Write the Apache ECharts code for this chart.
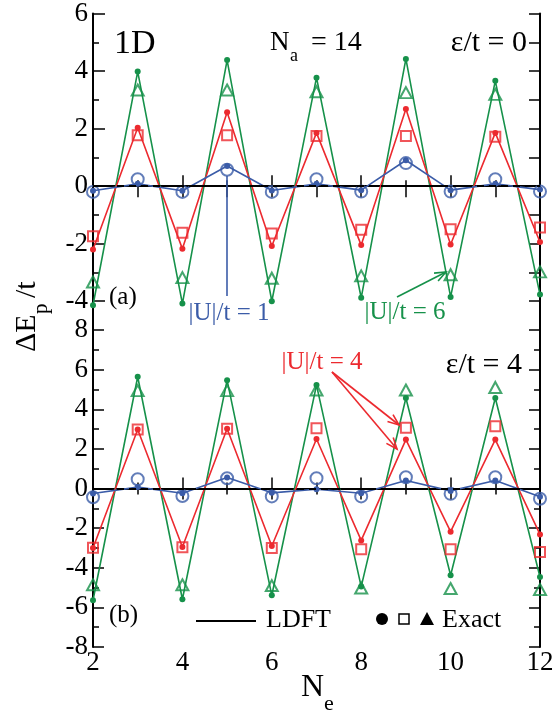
<!DOCTYPE html>
<html><head><meta charset="utf-8">
<script src="https://cdn.jsdelivr.net/npm/echarts@6/dist/echarts.min.js"></script>
<style>html,body{margin:0;padding:0;background:#fff}#c{width:560px;height:712px}</style>
</head><body><div id="c"></div>
<script>
// ---------------- data ----------------
const Ne = [2, 3, 4, 5, 6, 7, 8, 9, 10, 11, 12];
const xTickLabels = [2, 4, 6, 8, 10, 12];
const yTicksA = [-4, -2, 0, 2, 4, 6];
const yTicksB = [-8, -6, -4, -2, 0, 2, 4, 6, 8];
// panel (a): eps/t = 0
const a_U1_ldft  = [-0.16, 0.08, -0.16, 0.70, -0.15, 0.08, -0.14, 0.90, -0.14, 0.08, -0.12];
const a_U1_exact = [-0.20, 0.24, -0.20, 0.57, -0.20, 0.24, -0.19, 0.80, -0.19, 0.24, -0.19];
const a_U4_ldft  = [-2.20, 2.03, -2.18, 2.57, -2.08, 1.85, -2.05, 2.68, -2.03, 1.85, -1.94];
const a_U4_exact = [-1.74, 1.77, -1.62, 1.77, -1.65, 1.74, -1.52, 1.74, -1.50, 1.72, -1.44];
const a_U6_ldft  = [-4.14, 3.98, -4.08, 4.38, -4.00, 3.77, -3.88, 4.42, -3.85, 3.66, -3.77];
const a_U6_exact = [-3.33, 3.34, -3.18, 3.34, -3.20, 3.28, -3.12, 3.25, -3.08, 3.19, -2.98];
// panel (b): eps/t = 4
const b_U1_ldft  = [-0.25, 0.07, -0.24, 0.55, -0.22, -0.04, -0.24, 0.40, -0.12, 0.40, -0.42];
const b_U1_exact = [-0.44, 0.47, -0.38, 0.52, -0.40, 0.52, -0.40, 0.57, -0.27, 0.57, -0.52];
const b_U4_ldft  = [-3.00, 2.98, -2.95, 3.02, -2.90, 2.50, -2.62, 2.47, -2.18, 2.47, -2.32];
const b_U4_exact = [-2.99, 2.98, -2.96, 3.02, -3.00, 3.04, -3.07, 3.06, -3.07, 3.14, -3.20];
const b_U6_ldft  = [-5.64, 5.64, -5.59, 5.47, -5.39, 5.22, -4.95, 4.57, -4.38, 4.57, -4.47];
const b_U6_exact = [-4.86, 4.94, -4.86, 4.94, -4.90, 4.97, -5.02, 4.97, -5.05, 5.10, -5.10];

// ---------------- chart ----------------
const FAM = 'Liberation Serif';
const BLUE = '#3b5ca8', RED = '#ec2a2f', GREEN = '#16914a';
const chart = echarts.init(document.getElementById('c'), null, {renderer: 'canvas'});
const pts = ys => Ne.map((x, i) => [x, ys[i]]);
const tickStyle = {color: '#000', width: 1.5};
const axLine = show => ({show, lineStyle: {color: '#000', width: 2}});
const lblStyle = {color: '#000', fontFamily: FAM, fontSize: 27};

function xAxis(grid, pos, interval, labels, minor, len) {
  return {type: 'value', gridIndex: grid, position: pos, min: 2, max: 12, interval,
    axisLine: axLine(true),
    axisTick: {show: true, inside: true, length: len, lineStyle: tickStyle},
    minorTick: {show: minor, splitNumber: 2, length: 6, lineStyle: tickStyle},
    axisLabel: Object.assign({show: labels, margin: 2, customValues: xTickLabels}, lblStyle),
    splitLine: {show: false}, minorSplitLine: {show: false}};
}
function yAxis(grid, pos, min, max, opts) {
  return Object.assign({type: 'value', gridIndex: grid, position: pos, min, max,
    splitLine: {show: false}, minorSplitLine: {show: false}}, opts);
}
const odd = v => Math.abs(v % 2) === 1;

const xAxes = [
  xAxis(0, 'bottom', 2, false, true, 11),
  xAxis(0, 'top', 1, false, false, 11),
  xAxis(1, 'bottom', 2, true, true, 11),
  xAxis(1, 'top', 2, false, true, 11)
];
const yAxes = [
  yAxis(0, 'left', -5, 6, {interval: 1, axisLine: axLine(true),
    axisTick: {show: true, inside: true, length: 12, lineStyle: tickStyle, customValues: yTicksA},
    axisLabel: Object.assign({show: true, margin: 5, customValues: yTicksA,
      formatter: v => odd(v) ? '' : String(v)}, lblStyle)}),
  yAxis(0, 'left', -5, 6, {interval: 1, axisLine: axLine(false),
    axisTick: {show: true, inside: true, length: 6, lineStyle: tickStyle, customValues: [-5, -3, -1, 1, 3, 5]},
    axisLabel: {show: false}}),
  yAxis(0, 'right', -5, 6, {interval: 1, axisLine: axLine(true),
    axisTick: {show: true, inside: true, length: 11, lineStyle: tickStyle}, axisLabel: {show: false}}),
  yAxis(1, 'left', -8, 8, {interval: 2, axisLine: axLine(true),
    axisTick: {show: true, inside: true, length: 11, lineStyle: tickStyle},
    minorTick: {show: true, splitNumber: 2, length: 6, lineStyle: tickStyle},
    axisLabel: Object.assign({show: true, margin: 5, customValues: yTicksB}, lblStyle)}),
  yAxis(1, 'right', -8, 8, {interval: 2, axisLine: axLine(true),
    axisTick: {show: true, inside: true, length: 11, lineStyle: tickStyle},
    minorTick: {show: true, splitNumber: 2, length: 6, lineStyle: tickStyle},
    axisLabel: {show: false}})
];

const zeroLine = {silent: true, symbol: ['none', 'none'], label: {show: false},
  lineStyle: {color: '#000', type: [7, 5], width: 1.8}, data: [{yAxis: 0}]};

function ldft(data, color, xi, yi, mark) {
  const s = {type: 'line', xAxisIndex: xi, yAxisIndex: yi, data: pts(data), symbol: 'circle', symbolSize: 6,
    showSymbol: true, lineStyle: {color, width: 1.6}, itemStyle: {color}, z: 2, silent: true};
  if (mark) s.markLine = zeroLine;
  return s;
}
function exact(data, color, symbol, size, xi, yi) {
  return {type: 'scatter', xAxisIndex: xi, yAxisIndex: yi, data: pts(data), symbol, symbolSize: size,
    itemStyle: {color: 'rgba(0,0,0,0)', borderColor: color, borderWidth: 2}, z: 3, silent: true};
}

const series = [
  ldft(a_U6_ldft, GREEN, 0, 0, true), ldft(a_U4_ldft, RED, 0, 0), ldft(a_U1_ldft, BLUE, 0, 0),
  exact(a_U6_exact, GREEN, 'triangle', [12, 11], 0, 0), exact(a_U4_exact, RED, 'rect', 10, 0, 0),
  exact(a_U1_exact, BLUE, 'circle', 12, 0, 0),
  ldft(b_U6_ldft, GREEN, 2, 3, true), ldft(b_U4_ldft, RED, 2, 3), ldft(b_U1_ldft, BLUE, 2, 3),
  exact(b_U6_exact, GREEN, 'triangle', [12, 11], 2, 3), exact(b_U4_exact, RED, 'rect', 10, 2, 3),
  exact(b_U1_exact, BLUE, 'circle', 12, 2, 3)
];

// ---------------- annotations ----------------
function txt(text, x, y, size, color, align) {
  return {type: 'text', x, y, silent: true, z: 10, style: {text, fontFamily: FAM, fontSize: size,
    font: size + 'px "' + FAM + '"', fill: color || '#000',
    align: align || 'left', verticalAlign: 'middle', textAlign: align || 'left', textVerticalAlign: 'middle'}};
}
function arrow(x1, y1, x2, y2, color) {
  const dx = x2 - x1, dy = y2 - y1, L = Math.hypot(dx, dy), ux = dx / L, uy = dy / L;
  const hl = 12, a = 0.38, c = Math.cos(a), s = Math.sin(a);
  const h1 = [x2 - hl * (ux * c - uy * s), y2 - hl * (uy * c + ux * s)];
  const h2 = [x2 - hl * (ux * c + uy * s), y2 - hl * (uy * c - ux * s)];
  return [
    {type: 'line', silent: true, z: 10, shape: {x1, y1, x2, y2}, style: {stroke: color, lineWidth: 1.6}},
    {type: 'polyline', silent: true, z: 10, shape: {points: [h1, [x2, y2], h2]}, style: {stroke: color, lineWidth: 1.6, fill: null}}
  ];
}
const graphic = [
  txt('1D', 114, 44, 34),
  txt('N', 270, 43, 27), txt('a', 290, 56, 18), txt('= 14', 311, 43, 28),
  txt('\u03b5/t = 0', 527, 43, 30, '#000', 'right'),
  txt('(a)', 109, 297, 25),
  txt('\u03b5/t = 4', 522, 365, 30, '#000', 'right'),
  txt('(b)', 109, 615, 25),
  txt('|U|/t = 1', 229, 313, 25, BLUE, 'center'),
  txt('|U|/t = 6', 405, 312, 25, GREEN, 'center'),
  txt('|U|/t = 4', 322, 362, 25, RED, 'center'),
  {type: 'line', silent: true, z: 10, shape: {x1: 227, y1: 176, x2: 227, y2: 296}, style: {stroke: BLUE, lineWidth: 1.6}},
  ...arrow(397, 297, 446, 272, GREEN),
  ...arrow(332, 372, 399, 425, RED),
  ...arrow(332, 372, 397, 449, RED),
  {type: 'line', silent: true, z: 10, shape: {x1: 196, y1: 621, x2: 256, y2: 621}, style: {stroke: '#000', lineWidth: 2}},
  txt('LDFT', 266, 620, 26),
  {type: 'circle', silent: true, z: 10, shape: {cx: 382, cy: 619, r: 6}, style: {fill: '#000'}},
  {type: 'rect', silent: true, z: 10, shape: {x: 399, y: 614, width: 10, height: 10}, style: {fill: null, stroke: '#000', lineWidth: 1.5}},
  {type: 'polygon', silent: true, z: 10, shape: {points: [[427, 612], [434, 625], [420, 625]]}, style: {fill: '#000'}},
  txt('Exact', 442, 620, 26),
  txt('N', 301, 688, 32), txt('e', 324, 704, 22),
  {type: 'group', x: 27, y: 314, rotation: Math.PI / 2, silent: true, children: [
    txt('\u0394E', -38, 0, 30), txt('p', 0, 14, 21), txt('/t', 16, 0, 30)
  ]}
];

chart.setOption({
  animation: false,
  backgroundColor: '#fff',
  grid: [{left: 93, top: 13, width: 447, height: 317}, {left: 93, top: 330, width: 447, height: 317}],
  xAxis: xAxes, yAxis: yAxes, series, graphic
});
</script></body></html>
